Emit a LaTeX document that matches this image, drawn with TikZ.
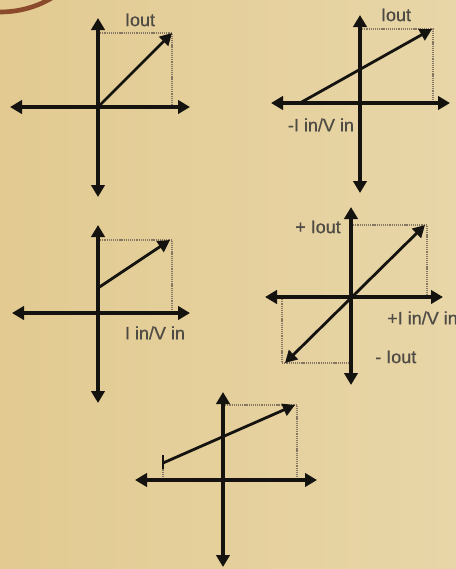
\documentclass[tikz,border=0pt]{standalone}
\usepackage{fontspec}
\setmainfont{Liberation Sans}[FakeBold=0.6]
\usetikzlibrary{arrows.meta}
\definecolor{bgL}{HTML}{E2CA91}
\definecolor{bgR}{HTML}{E8D6A8}
\definecolor{ink}{HTML}{151310}
\definecolor{guide}{HTML}{857762}
\definecolor{txt}{HTML}{4E4A44}
\definecolor{arcc}{HTML}{8C4A2C}
\tikzset{
  axis/.style={draw=ink, line width=2.3pt, {Triangle[width=10pt,length=9pt]}-{Triangle[width=10pt,length=9pt]}},
  vec/.style={draw=ink, line width=2.1pt, -{Triangle[width=9.5pt,length=9pt]}},
  dvec/.style={draw=ink, line width=2.1pt, {Triangle[width=9.5pt,length=9pt]}-{Triangle[width=9.5pt,length=9pt]}},
  guide/.style={draw=guide, line width=1.3pt, dash pattern=on 0.9pt off 0.7pt},
  lbl/.style={text=txt, font=\fontsize{13.5pt}{15pt}\selectfont, inner sep=0pt},
}
\begin{document}
\begin{tikzpicture}[x=0.75pt,y=-0.75pt]
\useasboundingbox (0,0) rectangle (456,569);
\clip (0,0) rectangle (456,569);
\shade[left color=bgL, right color=bgR] (0,0) rectangle (456,569);
\draw[arcc, line width=3.5pt] (0,-75) ellipse[x radius=95, y radius=87];

% ---------- chart 1 ----------
\coordinate (o1) at (98,107);
\coordinate (t1) at (98,18); \coordinate (b1) at (98,197);
\coordinate (l1) at (10,107); \coordinate (r1) at (190,107);
\coordinate (p1) at (172,33); \coordinate (py1) at (98,33); \coordinate (px1) at (172,107);
\draw[guide] (py1) -- (p1) -- (px1);
\draw[axis] (t1) -- (b1);
\draw[axis] (l1) -- (r1);
\draw[vec] (o1) -- (p1);
\node[lbl] (iout1) at (140,20) {Iout};

% ---------- chart 2 ----------
\coordinate (o2) at (360,103);
\coordinate (t2) at (360,15); \coordinate (b2) at (360,193);
\coordinate (l2) at (271,103); \coordinate (r2) at (450,103);
\coordinate (s2) at (300,103);
\coordinate (p2) at (432,29); \coordinate (py2) at (360,29); \coordinate (px2) at (433,103);
\draw[guide] (py2) -- (433,29) -- (px2);
\draw[axis] (t2) -- (b2);
\draw[axis] (l2) -- (r2);
\draw[vec] (s2) -- (p2);
\node[lbl] (iout2) at (396,15) {Iout};
\node[lbl] (in2) at (321,125) {-I in/V in};

% ---------- chart 3 ----------
\coordinate (o3) at (98,313);
\coordinate (t3) at (98,225); \coordinate (b3) at (98,403);
\coordinate (l3) at (12,313); \coordinate (r3) at (190,313);
\coordinate (s3) at (98,288);
\coordinate (p3) at (170,240); \coordinate (py3) at (98,240); \coordinate (px3) at (172,313);
\draw[guide] (py3) -- (172,240) -- (px3);
\draw[axis] (t3) -- (b3);
\draw[axis] (l3) -- (r3);
\draw[vec] (s3) -- (p3);
\node[lbl] (in3) at (155,333) {I in/V in};

% ---------- chart 4 ----------
\coordinate (o4) at (351,297);
\coordinate (t4) at (351,207); \coordinate (b4) at (351,385);
\coordinate (l4) at (265,297); \coordinate (r4) at (443,297);
\coordinate (n4) at (285,363); \coordinate (p4) at (425,225);
\draw[guide] (351,225) -- (427,225) -- (427,297);
\draw[guide] (282,297) -- (282,363) -- (351,363);
\draw[axis] (t4) -- (b4);
\draw[axis] (l4) -- (r4);
\draw[dvec] (n4) -- (p4);
\node[lbl] (iout4) at (318,227) {+ Iout};
\node[lbl, anchor=west] (in4) at (387,318) {+I in/V in};
\node[lbl, anchor=west] (miout4) at (375,357) {- Iout};

% ---------- chart 5 ----------
\coordinate (o5) at (223,480);
\coordinate (t5) at (223,392); \coordinate (b5) at (223,567);
\coordinate (l5) at (135,480); \coordinate (r5) at (317,480);
\coordinate (s5) at (163,463);
\coordinate (p5) at (295,405); \coordinate (py5) at (223,405); \coordinate (px5) at (297,480);
\draw[guide] (py5) -- (297,405) -- (px5);
\draw[guide] (s5) -- (163,480);
\draw[draw=ink, line width=0.8pt] (163,455) -- (163,469);
\draw[axis] (t5) -- (b5);
\draw[axis] (l5) -- (r5);
\draw[vec] (s5) -- (p5);
\end{tikzpicture}
\end{document}
